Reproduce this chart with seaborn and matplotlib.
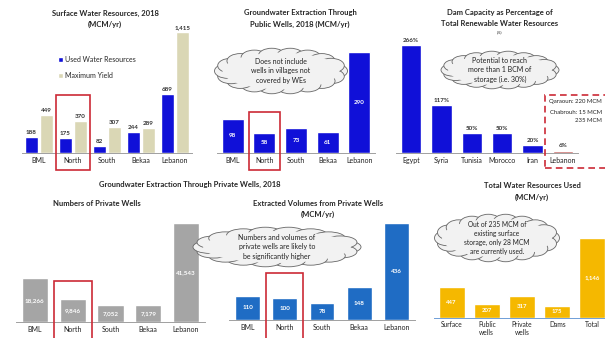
import numpy as np
import pandas as pd
import matplotlib.pyplot as plt
import matplotlib.transforms as mtransforms
from matplotlib.patches import Rectangle, Ellipse
import seaborn as sns

# ---- data ----
surf_regions = ['BML', 'North', 'South', 'Bekaa', 'Lebanon']
surf_used = [188, 175, 82, 244, 689]
surf_max = [449, 370, 307, 289, 1415]

pub_regions = ['BML', 'North', 'South', 'Bekaa', 'Lebanon']
pub_wells = [98, 58, 73, 61, 290]

dam_countries = ['Egypt', 'Syria', 'Tunisia', 'Morocco', 'Iran', 'Lebanon']
dam_pct = [266, 117, 50, 50, 20, 6]

priv_regions = ['BML', 'North', 'South', 'Bekaa', 'Lebanon']
priv_numbers = [18266, 9846, 7052, 7179, 41543]
priv_volumes = [110, 100, 78, 148, 436]

use_sources = ['Surface', 'Public\nwells', 'Private\nwells', 'Dams', 'Total']
use_volumes = [447, 207, 317, 175, 1146]

BLUE = '#1010d8'
BEIGE = '#dad7b5'
GRAY = '#a5a5a5'
MIDBLUE = '#1f6cc4'
GOLD = '#f5b800'
RED = '#cc2a36'
CLOUD = '#f2f2f2'

sns.set_style('white')
plt.rcParams['font.family'] = ['Lato', 'DejaVu Sans']

W, H = 605, 338
fig = plt.figure(figsize=(W / 100, H / 100), dpi=100)
fig.patch.set_facecolor('white')


def px_axes(left, right, top, base):
    return fig.add_axes([left / W, 1 - base / H, (right - left) / W, (base - top) / H])


def ftext(x, y, s, **kw):
    kw.setdefault('ha', 'center')
    kw.setdefault('va', 'center')
    fig.text(x / W, 1 - y / H, s, **kw)


def style(ax, n, vmax, spine='#a0a0a0'):
    ax.set_xlim(-0.5, n - 0.5)
    ax.set_ylim(0, vmax)
    ax.set_xlabel('')
    ax.set_ylabel('')
    ax.set_yticks([])
    sns.despine(ax=ax, left=True)
    ax.spines['bottom'].set_color(spine)
    ax.spines['bottom'].set_linewidth(0.7)
    ax.tick_params(axis='x', length=0, pad=3, labelsize=5, colors='#222222')
    ax.patch.set_alpha(0)


def highlight(ax, idx, y0, y1, x0=None, width=1.0, ls='-'):
    trans = mtransforms.blended_transform_factory(ax.transData, ax.transAxes)
    x0 = idx - 0.5 if x0 is None else x0
    ax.add_patch(Rectangle((x0, y0), width, y1 - y0, transform=trans, fill=False,
                           ec=RED, lw=1.2, ls=ls, clip_on=False, zorder=5))


def cloud(cx, cy, w, h, text, fs=5):
    tr = fig.transFigure
    for a in np.linspace(0, 2 * np.pi, 18, endpoint=False):
        bx = cx + 0.40 * w * np.cos(a)
        by = cy + 0.34 * h * np.sin(a)
        fig.add_artist(Ellipse((bx / W, 1 - by / H), 0.20 * w / W, 0.32 * h / H,
                               transform=tr, fc=CLOUD, ec='#666666', lw=0.6, zorder=5))
    fig.add_artist(Ellipse((cx / W, 1 - cy / H), 0.88 * w / W, 0.80 * h / H,
                           transform=tr, fc=CLOUD, ec='none', zorder=6))
    fig.text(cx / W, 1 - cy / H, text, ha='center', va='center', fontsize=fs,
             zorder=7, linespacing=1.35, color='#222222')


# ---- Surface water resources ----
ax1 = px_axes(22, 192, 32, 153)
df1 = pd.DataFrame({
    'region': surf_regions * 2,
    'value': surf_used + surf_max,
    'series': ['Used Water Resources'] * 5 + ['Maximum Yield'] * 5,
})
sns.barplot(data=df1, x='region', y='value', hue='series', palette=[BLUE, BEIGE],
            width=0.88, gap=0.1, saturation=1, ax=ax1)
style(ax1, 5, 1415)
for cont, vals in zip(ax1.containers, [surf_used, surf_max]):
    ax1.bar_label(cont, labels=[f'{v:,}' for v in vals], fontsize=4.5,
                  fontweight='bold', padding=1.5, color='#333333')
h, l = ax1.get_legend_handles_labels()
ax1.legend(h, l, loc='upper left', bbox_to_anchor=(52 / W, 1 - 50 / H),
           bbox_transform=fig.transFigure, frameon=False, fontsize=5,
           handlelength=0.7, handleheight=0.7, handletextpad=0.3, labelspacing=1.2)
highlight(ax1, 1, -0.14, 0.48)
ftext(105, 13, 'Surface Water Resources, 2018', fontsize=5.5, fontweight='bold')
ftext(105, 24, '(MCM/yr)', fontsize=5.5, fontweight='bold')

# ---- Public wells ----
ax2 = px_axes(217, 375, 52, 153)
sns.barplot(x=pub_regions, y=pub_wells, color=BLUE, width=0.7, saturation=1, ax=ax2)
style(ax2, 5, 290)
ax2.bar_label(ax2.containers[0], labels=[str(v) for v in pub_wells], label_type='center',
              fontsize=4.5, color='white', fontweight='bold')
highlight(ax2, 1, -0.17, 0.41)
ftext(300, 12, 'Groundwater Extraction Through', fontsize=5.5, fontweight='bold')
ftext(300, 24, 'Public Wells, 2018 (MCM/yr)', fontsize=5.5, fontweight='bold')
cloud(281, 71, 133, 46, 'Does not include\nwells in villages not\ncovered by WEs')

# ---- Dam capacity ----
ax3 = px_axes(396, 578, 45, 153)
dam_colors = [BLUE] * 5 + ['#c0504d']
sns.barplot(x=dam_countries, y=dam_pct, hue=dam_countries, palette=dam_colors,
            width=0.66, saturation=1, legend=False, ax=ax3)
style(ax3, 6, 266)
for cont, v in zip(ax3.containers, dam_pct):
    ax3.bar_label(cont, labels=[f'{v}%'], fontsize=4.5, fontweight='bold',
                  padding=1.5, color='#333333')
highlight(ax3, 5, -0.14, 0.54, x0=4.41, width=2.0, ls=(0, (4, 2.5)))
ftext(500, 12, 'Dam Capacity as Percentage of', fontsize=5.5, fontweight='bold')
ftext(500, 24, 'Total Renewable Water Resources', fontsize=5.5, fontweight='bold')
ftext(500, 32, '(%)', fontsize=3)
cloud(500, 70, 118, 38, 'Potential to reach\nmore than 1 BCM of\nstorage (i.e. 30%)')
ftext(602, 102, 'Qaraoun: 220 MCM', fontsize=4.3, ha='right')
ftext(602, 112, 'Chabrouh: 15 MCM', fontsize=4.3, ha='right')
ftext(602, 121, '235 MCM', fontsize=4.3, ha='right')

# ---- Private wells: numbers ----
ax4 = px_axes(16, 205, 223, 322)
sns.barplot(x=priv_regions, y=priv_numbers, color=GRAY, width=0.69, saturation=1, ax=ax4)
style(ax4, 5, 41543)
ax4.bar_label(ax4.containers[0], labels=[f'{v:,}' for v in priv_numbers], label_type='center',
              fontsize=4.5, color='white', fontweight='bold')
highlight(ax4, 1, -0.2, 0.41)
ftext(190, 184, 'Groundwater Extraction Through Private Wells, 2018', fontsize=5.5, fontweight='bold')
ftext(97, 203, 'Numbers of Private Wells', fontsize=5.5, fontweight='bold')

# ---- Private wells: volumes ----
ax5 = px_axes(229, 415, 223, 320)
sns.barplot(x=priv_regions, y=priv_volumes, color=MIDBLUE, width=0.67, saturation=1, ax=ax5)
style(ax5, 5, 436)
ax5.bar_label(ax5.containers[0], labels=[str(v) for v in priv_volumes], label_type='center',
              fontsize=4.5, color='white', fontweight='bold')
highlight(ax5, 1, -0.2, 0.485)
ftext(318, 203, 'Extracted Volumes from Private Wells', fontsize=5.5, fontweight='bold')
ftext(318, 214, '(MCM/yr)', fontsize=5.5, fontweight='bold')
cloud(277, 247, 168, 40, 'Numbers and volumes of\nprivate wells are likely to\nbe significantly higher')

# ---- Total water used ----
ax6 = px_axes(434, 610, 238, 318)
sns.barplot(x=use_sources, y=use_volumes, color=GOLD, width=0.74, saturation=1, ax=ax6)
style(ax6, 5, 1146, spine='#6f9fd8')
ax6.bar_label(ax6.containers[0], labels=[f'{v:,}' for v in use_volumes], label_type='center',
              fontsize=4.3, color='white', fontweight='bold')
ax6.tick_params(axis='x', pad=2, labelsize=4.8)
ftext(532, 185, 'Total Water Resources Used', fontsize=5.5, fontweight='bold')
ftext(532, 197, '(MCM/yr)', fontsize=5.5, fontweight='bold')
cloud(497, 238, 125, 48, 'Out of 235 MCM of\nexisting surface\nstorage, only 28 MCM\nare currently used.', fs=4.8)

fig.savefig('out.png', dpi=100, facecolor='white')
